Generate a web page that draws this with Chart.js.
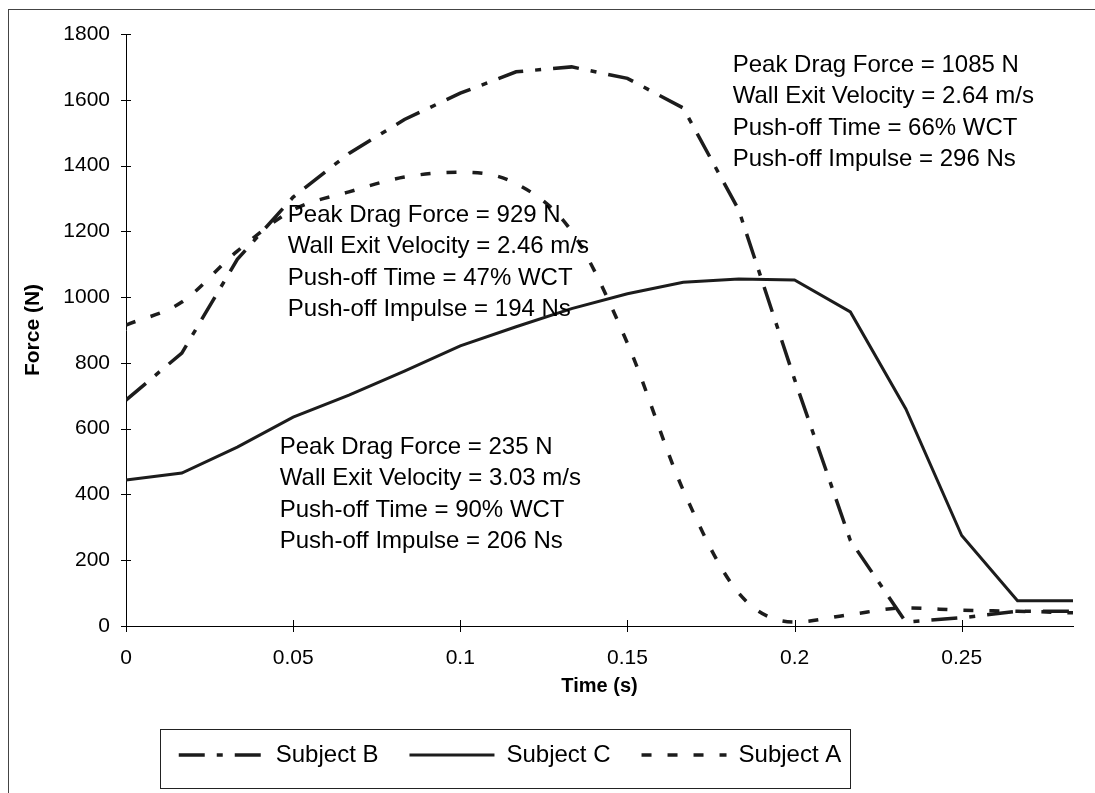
<!DOCTYPE html>
<html>
<head>
<meta charset="utf-8">
<script src="https://cdn.jsdelivr.net/npm/chart.js@4.4.0/dist/chart.umd.min.js"></script>
<style>
  body { margin: 0; background: #fff; }
</style>
</head>
<body>
<canvas id="chart" width="1095" height="793"></canvas>
<script>
// time samples (s)
var times = [0, 0.0167, 0.0333, 0.05, 0.0667, 0.0833, 0.1, 0.1167, 0.1333, 0.15,
             0.1667, 0.1833, 0.2, 0.2167, 0.2333, 0.25, 0.2667, 0.2833];

// force (N)
var subjectB = [687, 830, 1115, 1304, 1437, 1540, 1620, 1685, 1700, 1665,
                1575, 1265, 750, 260, 12, 25, 45, 45];
var subjectC = [444, 465, 544, 635, 702, 775, 852, 910, 965, 1010,
                1045, 1055, 1052, 955, 660, 275, 77, 77];
var subjectA = [915, 985, 1140, 1265, 1320, 1365, 1380, 1345, 1200, 860,
                413, 100, 12, 35, 55, 48, 45, 40];

var xTicks = [0, 0.05, 0.1, 0.15, 0.2, 0.25];
var yTicks = [0, 200, 400, 600, 800, 1000, 1200, 1400, 1600, 1800];

// text boxes, anchored in data units (left edge, first line)
var noteB = { x: 0.1815, y: 1705, lines: ['Peak Drag Force = 1085 N', 'Wall Exit Velocity = 2.64 m/s', 'Push-off Time = 66% WCT', 'Push-off Impulse = 296 Ns'] };
var noteA = { x: 0.0484, y: 1249, lines: ['Peak Drag Force = 929 N', 'Wall Exit Velocity = 2.46 m/s', 'Push-off Time = 47% WCT', 'Push-off Impulse = 194 Ns'] };
var noteC = { x: 0.046, y: 544, lines: ['Peak Drag Force = 235 N', 'Wall Exit Velocity = 3.03 m/s', 'Push-off Time = 90% WCT', 'Push-off Impulse = 206 Ns'] };

function pts(ys) {
  return times.map(function (t, i) { return { x: t, y: ys[i] }; });
}

var FONT = '"Liberation Sans", Arial, sans-serif';

var extras = {
  id: 'extras',
  beforeDraw: function (chart) {
    var ctx = chart.ctx;
    ctx.save();
    ctx.strokeStyle = '#444';
    ctx.lineWidth = 1;
    ctx.strokeRect(8.5, 9.5, 1300, 1000);
    ctx.restore();
    // shift the legend row left, like the original
    var lg = chart.legend;
    lg.left = 120; lg.right = 900; lg.width = 780;
  },
  afterDraw: function (chart) {
    var ctx = chart.ctx;
    var xs = chart.scales.x, ys = chart.scales.y;
    ctx.save();
    ctx.strokeStyle = '#000';
    ctx.lineWidth = 1;
    ctx.beginPath();
    yTicks.forEach(function (v) {
      var p = Math.round(ys.getPixelForValue(v)) + 0.5;
      ctx.moveTo(xs.left - 5, p); ctx.lineTo(xs.left + 5, p);
    });
    xTicks.forEach(function (v) {
      var p = Math.round(xs.getPixelForValue(v)) + 0.5;
      ctx.moveTo(p, ys.bottom - 6); ctx.lineTo(p, ys.bottom + 6);
    });
    ctx.stroke();

    ctx.fillStyle = '#000';
    ctx.font = '24px ' + FONT;
    ctx.textBaseline = 'middle';
    ctx.textAlign = 'left';
    [noteB, noteA, noteC].forEach(function (n) {
      var px = xs.getPixelForValue(n.x), py = ys.getPixelForValue(n.y);
      n.lines.forEach(function (s, i) { ctx.fillText(s, px, py + i * 31.5); });
    });

    var lg = chart.legend;
    ctx.strokeStyle = '#222';
    ctx.strokeRect(160.5, lg.top + 17.5, 690, 59);
    ctx.restore();
  }
};

new Chart(document.getElementById('chart').getContext('2d'), {
  type: 'scatter',
  data: {
    datasets: [
      { label: 'Subject B', data: pts(subjectB), showLine: true, borderColor: '#1c1c1c', borderWidth: 3.5,
        borderDash: [26, 12, 6, 12], pointRadius: 0, tension: 0 },
      { label: 'Subject C', data: pts(subjectC), showLine: true, borderColor: '#1c1c1c', borderWidth: 3,
        pointRadius: 0, tension: 0 },
      { label: 'Subject A', data: pts(subjectA), showLine: true, borderColor: '#1c1c1c', borderWidth: 3.5,
        borderDash: [10, 16], pointRadius: 0, cubicInterpolationMode: 'monotone' }
    ]
  },
  options: {
    responsive: false,
    devicePixelRatio: 1,
    animation: false,
    layout: { padding: { top: 34, right: 22, left: 0, bottom: 16 } },
    scales: {
      x: {
        type: 'linear', min: 0, max: 0.2833,
        grid: { display: true, drawOnChartArea: false, drawTicks: false },
        border: { display: true, color: '#000', width: 1 },
        ticks: { stepSize: 0.05, includeBounds: false, padding: 20, color: '#000',
                 font: { family: FONT, size: 21 },
                 callback: function (v) { return String(+v.toFixed(3)); } },
        title: { display: true, text: 'Time (s)', color: '#000', padding: { bottom: 14 },
                 font: { family: FONT, size: 20, weight: 'bold' } },
        afterFit: function (s) { s.height = 86; }
      },
      y: {
        min: 0, max: 1800,
        grid: { display: true, drawOnChartArea: false, drawTicks: false },
        border: { display: true, color: '#000', width: 1 },
        ticks: { stepSize: 200, padding: 16, color: '#000',
                 font: { family: FONT, size: 21 },
                 callback: function (v) { return String(v); } },
        title: { display: true, text: 'Force (N)', color: '#000', padding: { top: 21 },
                 font: { family: FONT, size: 21, weight: 'bold' } },
        afterFit: function (s) { s.width = 126; }
      }
    },
    plugins: {
      legend: {
        position: 'bottom',
        labels: {
          usePointStyle: true, pointStyleWidth: 85, padding: 31,
          color: '#000', font: { family: FONT, size: 24 },
          generateLabels: function (chart) {
            return chart.data.datasets.map(function (ds, i) {
              return { text: ds.label, datasetIndex: i, hidden: false,
                       strokeStyle: ds.borderColor, fillStyle: ds.borderColor,
                       lineWidth: ds.borderWidth, lineDash: ds.borderDash || [],
                       lineCap: 'butt', pointStyle: 'line', fontColor: '#000' };
            });
          }
        }
      },
      tooltip: { enabled: false }
    }
  },
  plugins: [extras]
});
</script>
</body>
</html>
